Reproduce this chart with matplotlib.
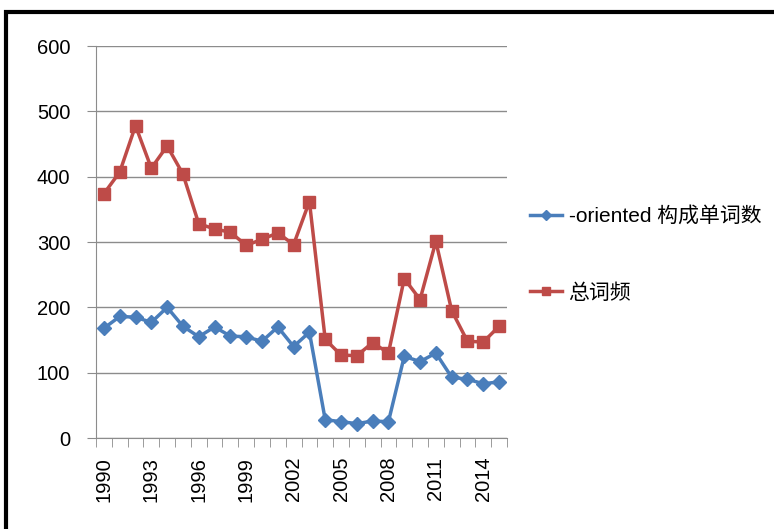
import matplotlib
matplotlib.use("Agg")
import matplotlib.pyplot as plt
from matplotlib.patches import Rectangle

plt.rcParams['font.family'] = ['Liberation Sans', 'Noto Sans CJK SC', 'DejaVu Sans']

years = list(range(1990, 2016))
oriented = [168, 186, 185, 177, 200, 171, 155, 170, 156, 155, 148, 170, 140, 162,
            28, 25, 22, 26, 25, 125, 117, 130, 93, 90, 83, 86]
total = [374, 407, 478, 413, 447, 404, 328, 320, 315, 295, 304, 314, 296, 362,
         151, 127, 126, 146, 130, 244, 212, 301, 195, 148, 147, 171]
labels = ['-oriented 构成单词数', '总词频']

fig = plt.figure(figsize=(7.74, 5.29), dpi=100)
ax = fig.add_axes([96 / 774, 0.172, 411 / 774, 0.741])

x = list(range(len(years)))
ax.plot(x, oriented, color='#4A7EBB', lw=2.5, marker='D', ms=7, label=labels[0])
ax.plot(x, total, color='#BE4B48', lw=2.5, marker='s', ms=8.5, label=labels[1])

ax.set_ylim(0, 600)
ax.set_yticks(range(0, 601, 100))
ax.set_xlim(-0.5, len(years) - 0.5)
ax.set_xticks(x[::3])
ax.set_xticklabels([str(y) for y in years[::3]], rotation=90)
ax.set_xticks([i - 0.5 for i in range(len(years) + 1)], minor=True)
ax.tick_params(axis='x', which='major', length=0, pad=13.5, labelsize=14.5)
ax.tick_params(axis='x', which='minor', length=6.5, color='#8c8c8c', direction='out')
ax.tick_params(axis='y', length=6.5, color='#8c8c8c', labelsize=14.5, pad=12)
ax.grid(axis='y', color='#8c8c8c', lw=1)
ax.set_axisbelow(True)
for s in ['top', 'right']:
    ax.spines[s].set_visible(False)
for s in ['left', 'bottom']:
    ax.spines[s].set_color('#8c8c8c')

fig.legend(loc='upper left', bbox_to_anchor=(530 / 774, 1 - 206 / 529), frameon=False,
           fontsize=15, labelspacing=2.75, handlelength=1.55, handletextpad=0.3,
           borderpad=0, borderaxespad=0, markerscale=0.7)

# black frame (chart border)
fig.patches.append(Rectangle((6 / 774, -0.1), 2, 1 - 12 / 529 + 0.1,
                             transform=fig.transFigure, fill=False,
                             edgecolor='black', lw=3))

fig.savefig('out.png', dpi=100)
